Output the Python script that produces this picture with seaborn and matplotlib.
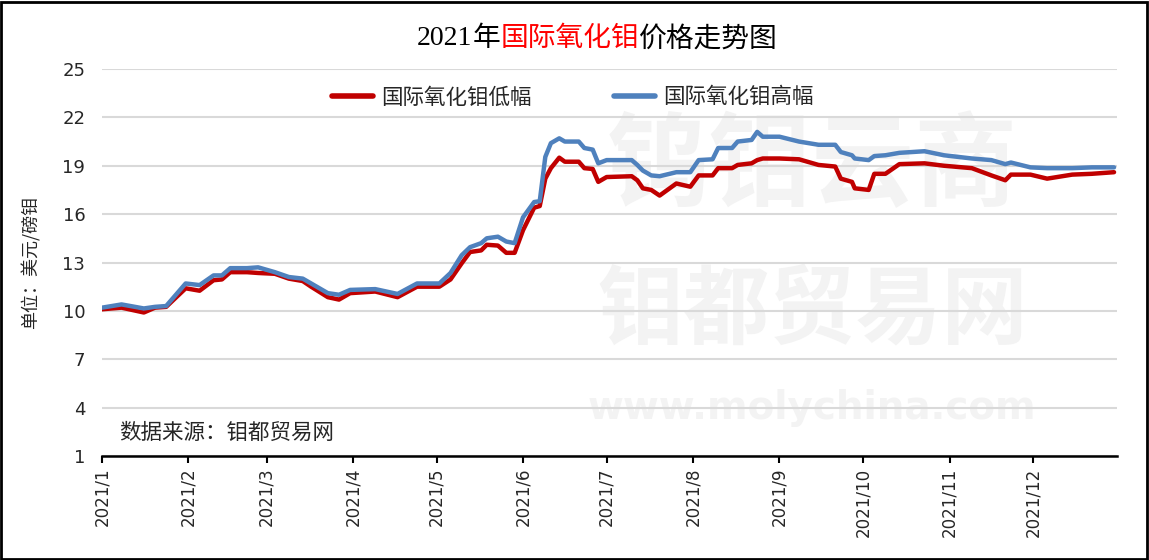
import pandas as pd
import seaborn as sns
import matplotlib.pyplot as plt
import matplotlib.dates as mdates
from matplotlib.patches import Rectangle

# 2021年国际氧化钼价格（美元/磅钼）
dates = ["01-01", "01-08", "01-16", "01-20", "01-24", "01-31", "02-05", "02-10",
         "02-13", "02-16", "02-22", "02-26", "03-04", "03-09", "03-14", "03-17",
         "03-23", "03-27", "03-31", "04-09", "04-17", "04-24", "05-02", "05-06",
         "05-10", "05-13", "05-17", "05-19", "05-23", "05-26", "05-29", "06-01",
         "06-05", "06-07", "06-09", "06-11", "06-14", "06-16", "06-21", "06-23",
         "06-26", "06-28", "07-01", "07-10", "07-12", "07-14", "07-17", "07-20",
         "07-26", "07-31", "08-03", "08-08", "08-10", "08-15", "08-17", "08-22",
         "08-24", "08-26", "09-01", "09-08", "09-15", "09-21", "09-23", "09-27",
         "09-28", "10-03", "10-05", "10-09", "10-14", "10-23", "10-30", "11-09",
         "11-16", "11-21", "11-23", "11-30", "12-06", "12-15", "12-22", "12-30"]

low = [10.1, 10.2, 9.9, 10.2, 10.25, 11.4, 11.25, 11.9,
       11.95, 12.4, 12.4, 12.35, 12.3, 12.0, 11.85, 11.5,
       10.85, 10.7, 11.1, 11.2, 10.85, 11.5, 11.5, 11.95,
       12.95, 13.65, 13.75, 14.1, 14.05, 13.6, 13.6, 15.0,
       16.4, 16.5, 18.2, 18.85, 19.5, 19.25, 19.25, 18.85,
       18.8, 18.0, 18.3, 18.35, 18.1, 17.6, 17.5, 17.15,
       17.9, 17.7, 18.4, 18.4, 18.85, 18.85, 19.05, 19.15,
       19.35, 19.45, 19.45, 19.4, 19.05, 18.95, 18.2, 18.0,
       17.6, 17.5, 18.5, 18.5, 19.1, 19.15, 19.0, 18.85,
       18.4, 18.1, 18.45, 18.45, 18.2, 18.45, 18.5, 18.6]

high = [10.2, 10.4, 10.15, 10.25, 10.3, 11.7, 11.6, 12.2,
        12.2, 12.65, 12.65, 12.7, 12.4, 12.1, 12.0, 11.7,
        11.1, 11.0, 11.3, 11.35, 11.05, 11.7, 11.7, 12.35,
        13.45, 13.95, 14.2, 14.5, 14.6, 14.3, 14.2, 15.8,
        16.75, 16.8, 19.55, 20.4, 20.7, 20.5, 20.5, 20.1,
        20.0, 19.15, 19.35, 19.35, 19.05, 18.7, 18.4, 18.35,
        18.6, 18.6, 19.35, 19.4, 20.1, 20.1, 20.5, 20.6,
        21.1, 20.8, 20.8, 20.5, 20.3, 20.3, 19.85, 19.65,
        19.45, 19.35, 19.6, 19.65, 19.8, 19.9, 19.65, 19.45,
        19.35, 19.1, 19.2, 18.9, 18.85, 18.85, 18.9, 18.9]

df = pd.DataFrame({"date": pd.to_datetime(["2021-" + d for d in dates]),
                   "国际氧化钼低幅": low, "国际氧化钼高幅": high})
df_long = df.melt(id_vars="date", var_name="系列", value_name="价格")

sns.set_style("white")
plt.rcParams["font.family"] = ["Noto Sans CJK SC", "DejaVu Sans"]

fig = plt.figure(figsize=(11.49, 5.60), dpi=100)
ax = fig.add_axes([0.0888, 0.1857, 0.8832, 0.6911])

# 水印
wm = "#f3f3f3"
ax.text(0.70, 0.745, "钨钼云商", transform=ax.transAxes, fontsize=74, fontweight="bold",
        color=wm, ha="center", va="center", zorder=0)
ax.text(0.70, 0.375, "钼都贸易网", transform=ax.transAxes, fontsize=62, fontweight="bold",
        color=wm, ha="center", va="center", zorder=0)
ax.text(0.70, 0.125, "www.molychina.com", transform=ax.transAxes, fontsize=28,
        fontweight="bold", color=wm, ha="center", va="center", zorder=0,
        family="DejaVu Sans")

sns.lineplot(data=df_long, x="date", y="价格", hue="系列", ax=ax,
             palette=["#C00000", "#4F81BD"], linewidth=3.2, zorder=3)

ax.set_ylim(1, 25)
ax.set_yticks(range(1, 26, 3))
ax.set_xlim(pd.Timestamp("2021-01-01"), pd.Timestamp("2021-12-31"))
ax.xaxis.set_major_locator(mdates.MonthLocator())
ax.xaxis.set_major_formatter(mdates.DateFormatter("2021/%-m"))
ax.tick_params(axis="x", rotation=90, labelsize=12, length=5, width=1.5,
               direction="out", bottom=True, color="black")
ax.tick_params(axis="y", labelsize=13, length=0, pad=12)
for lab in ax.get_xticklabels() + ax.get_yticklabels():
    lab.set_family(["DejaVu Sans"])
ax.grid(axis="y", color="#d9d9d9", linewidth=1.5)
ax.set_axisbelow(True)
for s in ["left", "right", "top"]:
    ax.spines[s].set_visible(False)
ax.spines["bottom"].set_color("black")
ax.spines["bottom"].set_linewidth(1.8)
ax.spines["bottom"].set_zorder(4)

ax.set_xlabel("")
ax.set_ylabel("单位：美元/磅钼", fontsize=13, labelpad=16)

leg = ax.legend(loc="upper center", bbox_to_anchor=(0.464, 1.005), ncol=2, frameon=False,
                fontsize=15.5, handlelength=1.9, handletextpad=0.4, columnspacing=3.8,
                title=None)
for line in leg.get_lines():
    line.set_linewidth(4)

ax.text(0.017, 0.06, "数据来源：钼都贸易网", transform=ax.transAxes, fontsize=15.5,
        ha="left", va="center")

# 标题：部分红字
title_y = 0.932
title_parts = ["2021", "年", "国际氧化钼", "价格走势图"]
title_colors = ["black", "black", "red", "black"]
fig.canvas.draw()
renderer = fig.canvas.get_renderer()
texts = []
x = 0.0
for txt, col in zip(title_parts, title_colors):
    fam = ["Liberation Serif"] if txt.isdigit() else ["Noto Sans CJK SC"]
    t = fig.text(x, title_y, txt, fontsize=20, color=col, ha="left", va="center", family=fam)
    x = t.get_window_extent(renderer).x1 / fig.bbox.width
    texts.append(t)
shift = 0.52 - x / 2
for t in texts:
    px, py = t.get_position()
    t.set_position((px + shift, py))

fig.patches.append(Rectangle((0.001, 0.002), 0.997, 0.995, transform=fig.transFigure,
                             fill=False, edgecolor="black", linewidth=2))

fig.savefig("out.png", dpi=100)
